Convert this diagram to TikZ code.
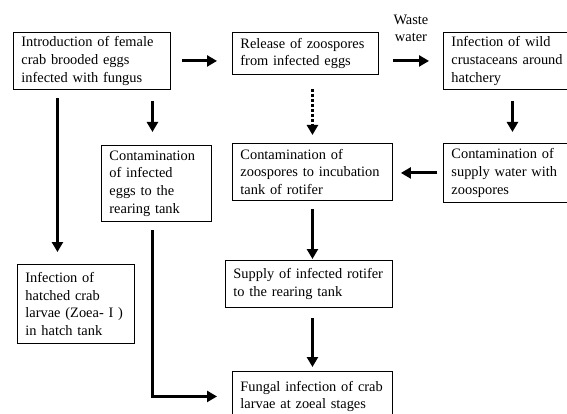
\documentclass[tikz,border=0pt]{standalone}
\usepackage{fontspec}
\setmainfont{Liberation Serif}
\usepackage{tikz}
\usetikzlibrary{arrows.meta,positioning}

\begin{document}
\begin{tikzpicture}[x=1pt,y=1pt,
    box/.style={draw,line width=0.9pt,anchor=north west,align=left,inner xsep=8pt,inner ysep=2pt,
      font=\fontsize{14.4}{17.7}\selectfont},
    arr/.style={line width=3pt,-{Triangle[length=10pt,width=11pt]}},
    dotarr/.style={arr,dash pattern=on 3pt off 2pt}]
  \clip (0,0) rectangle (567,-414);
  \fill[white] (0,0) rectangle (567,-414);
  \node[box,minimum width=157pt,minimum height=57pt,text width=141pt] (intro) at (13,-32)
    {Introduction of female\\crab brooded eggs\\infected with fungus};
  \node[box,minimum width=146pt,minimum height=42pt,text width=130pt] (release) at (232,-32)
    {Release of zoospores\\from infected eggs};
  \node[box,minimum width=138pt,minimum height=57pt,text width=122pt] (wild) at (443,-32)
    {Infection of wild\\crustaceans around\\hatchery};
  \node[box,minimum width=110pt,minimum height=76pt,text width=94pt] (eggs) at (101,-145)
    {Contamination\\of infected\\eggs to the\\rearing tank};
  \node[box,minimum width=160pt,minimum height=57pt,text width=144pt] (rotifer) at (232,-143)
    {Contamination of\\zoospores to incubation\\tank of rotifer};
  \node[box,minimum width=138pt,minimum height=59pt,text width=122pt] (supply) at (443,-143)
    {Contamination of\\supply water with\\zoospores};
  \node[box,minimum width=117pt,minimum height=79pt,text width=101pt] (hatch) at (17,-264)
    {Infection of\\hatched crab\\larvae (Zoea- I )\\in hatch tank};
  \node[box,minimum width=167pt,minimum height=47pt,text width=151pt] (rotsup) at (225,-260)
    {Supply of infected rotifer\\to the rearing tank};
  \node[box,minimum width=160pt,minimum height=50pt,text width=144pt] (fungal) at (232,-371)
    {Fungal infection of crab\\larvae at zoeal stages};
  \draw[arr,shorten <=11pt,shorten >=15pt] (intro.east) -- (intro.east -| release.west);
  \draw[arr,shorten <=14pt,shorten >=14pt] (release.east |- wild.west) -- (wild.west)
    node[midway,above=14pt,align=center,font=\fontsize{14.4}{17}\selectfont] (waste) {Waste\\water};
  \draw[arr,shorten <=11pt,shorten >=11pt] (wild.south) -- (supply.north);
  \draw[arr,shorten <=6pt,shorten >=8pt] (supply.west) -- (supply.west -| rotifer.east);
  \draw[dotarr,shorten <=14pt,shorten >=8pt] (release.south -| rotifer.north) -- (rotifer.north);
  \draw[arr,shorten <=11pt,shorten >=13pt] ([xshift=-4pt]eggs.north |- intro.south) -- ([xshift=-4pt]eggs.north);
  \draw[arr,shorten <=8pt,shorten >=12pt] ([xshift=-18.5pt]hatch.north |- intro.south) -- ([xshift=-18.5pt]hatch.north);
  \draw[arr,shorten <=8pt,shorten >=1pt] (rotifer.south) -- (rotifer.south |- rotsup.north);
  \draw[arr,shorten <=10pt,shorten >=4pt] (rotsup.south -| fungal.north) -- (fungal.north);
  \draw[arr,shorten <=8pt,shorten >=15pt] ([xshift=-4pt]eggs.south) |- (fungal.west);
\end{tikzpicture}
\end{document}
